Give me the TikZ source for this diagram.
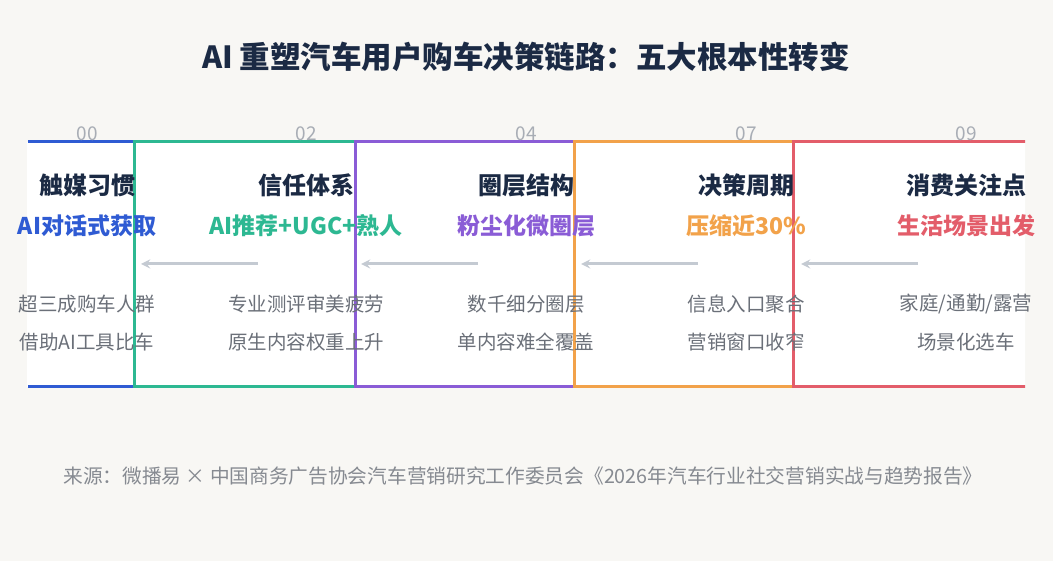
\documentclass[tikz,border=0pt]{standalone}
\usepackage{fontspec}
\setmainfont{Noto Sans CJK SC}
\usetikzlibrary{positioning,backgrounds}
\definecolor{bgc}{HTML}{F8F7F4}
\definecolor{ink}{HTML}{1B2A44}
\definecolor{cA}{HTML}{2F5BD3}
\definecolor{cB}{HTML}{2DB892}
\definecolor{cC}{HTML}{8A5CD6}
\definecolor{cD}{HTML}{F2A24A}
\definecolor{cE}{HTML}{E35D6A}
\definecolor{numc}{HTML}{A8ADB5}
\definecolor{subc}{HTML}{6B7079}
\definecolor{arrc}{HTML}{C4CAD2}

\begin{document}
\begin{tikzpicture}[x=1pt,y=-1pt,>=stealth,
  title/.style={font=\fontsize{30.5}{32}\selectfont\bfseries,text=ink},
  head/.style={font=\fontsize{24}{26}\selectfont\bfseries,text=ink},
  key/.style={font=\fontsize{23}{25}\selectfont\bfseries},
  num/.style={font=\fontsize{19}{20}\selectfont,text=numc},
  line/.style={font=\fontsize{19.5}{20}\selectfont,text=subc},
  frame/.style={line width=3pt}]

\fill[bgc] (0,0) rectangle (1053,561);
\useasboundingbox (0,0) rectangle (1053,561);

\node[title] (title) at (526,57) {AI 重塑汽车用户购车决策链路：五大根本性转变};

\fill[white] (27,142) rectangle (1025,387);
\begin{scope}
  \clip (28,130) rectangle (1025,400);
  \foreach \x/\w/\c in {-200/334/cA,134/221/cB,355/219/cC,574/219/cD,793/400/cE}
    \draw[frame,\c,fill=white] (\x,142) rectangle ++(\w,245);
\end{scope}

\foreach \i/\x/\n/\h/\k/\c/\a/\b in {
  1/87/00/触媒习惯/AI对话式获取/cA/超三成购车人群/借助AI工具比车,
  2/306/02/信任体系/AI推荐+UGC+熟人/cB/专业测评审美疲劳/原生内容权重上升,
  3/526/04/圈层结构/粉尘化微圈层/cC/数千细分圈层/单内容难全覆盖,
  4/746/07/决策周期/压缩近30\%/cD/信息入口聚合/营销窗口收窄,
  5/966/09/消费关注点/生活场景出发/cE/{家庭/通勤/露营}/场景化选车}{
  \node[num] (n\i) at (\x,134) {\n};
  \node[head] (h\i) at (\x,185) {\h};
  \node[key,text=\c] (k\i) at (\x,226) {\k};
  \node[line] (a\i) at (\x,304) {\a};
  \node[line] (b\i) at (\x,342) {\b};
}

% arrows point back toward the previous stage
\foreach \i/\x in {2/306,3/526,4/746,5/966}{
  \coordinate (s\i) at (\x-48,264);
  \coordinate (e\i) at (\x-165,264);
  \draw[->,arrc,line width=3pt] (s\i) -- (e\i);
}

\node[line,font=\fontsize{19.7}{21}\selectfont,text=numc!80!black] (src) at (523,476)
  {来源：微播易 × 中国商务广告协会汽车营销研究工作委员会《2026年汽车行业社交营销实战与趋势报告》};
\end{tikzpicture}
\end{document}
